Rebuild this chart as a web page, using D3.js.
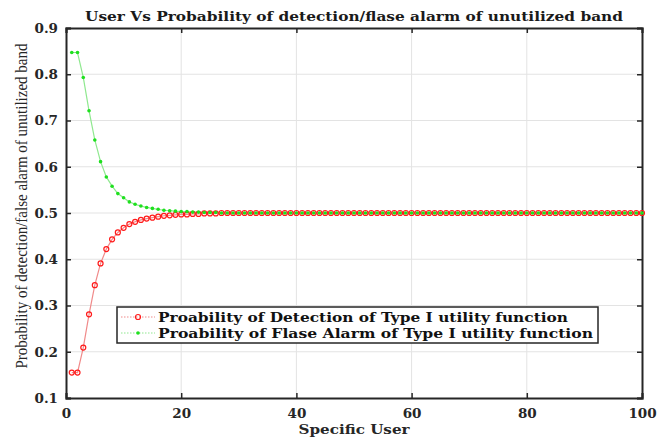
<!DOCTYPE html>
<html>
<head>
  <meta charset="utf-8">
  <title>User Vs Probability</title>
  <script src="https://cdn.jsdelivr.net/npm/d3@7"></script>
  <style>
    body { margin: 0; background: #fff; }
    text { font-family: "DejaVu Serif", serif; }
  </style>
</head>
<body>
  <script>
    // users 1..100
    const users = [
      1, 2, 3, 4, 5, 6, 7, 8, 9, 10, 11, 12, 13, 14, 15, 16, 17, 18, 19, 20,
      21, 22, 23, 24, 25, 26, 27, 28, 29, 30, 31, 32, 33, 34, 35, 36, 37, 38, 39, 40,
      41, 42, 43, 44, 45, 46, 47, 48, 49, 50, 51, 52, 53, 54, 55, 56, 57, 58, 59, 60,
      61, 62, 63, 64, 65, 66, 67, 68, 69, 70, 71, 72, 73, 74, 75, 76, 77, 78, 79, 80,
      81, 82, 83, 84, 85, 86, 87, 88, 89, 90, 91, 92, 93, 94, 95, 96, 97, 98, 99, 100]
    const detection = [
      0.155, 0.155, 0.209, 0.281, 0.344, 0.391, 0.422, 0.443, 0.458, 0.468,
      0.476, 0.481, 0.485, 0.488, 0.490, 0.492, 0.494, 0.495, 0.496, 0.497,
      0.497, 0.498, 0.498, 0.499, 0.499, 0.499, 0.5, 0.5, 0.5, 0.5,
      0.5, 0.5, 0.5, 0.5, 0.5, 0.5, 0.5, 0.5, 0.5, 0.5,
      0.5, 0.5, 0.5, 0.5, 0.5, 0.5, 0.5, 0.5, 0.5, 0.5,
      0.5, 0.5, 0.5, 0.5, 0.5, 0.5, 0.5, 0.5, 0.5, 0.5,
      0.5, 0.5, 0.5, 0.5, 0.5, 0.5, 0.5, 0.5, 0.5, 0.5,
      0.5, 0.5, 0.5, 0.5, 0.5, 0.5, 0.5, 0.5, 0.5, 0.5,
      0.5, 0.5, 0.5, 0.5, 0.5, 0.5, 0.5, 0.5, 0.5, 0.5,
      0.5, 0.5, 0.5, 0.5, 0.5, 0.5, 0.5, 0.5, 0.5, 0.5]
    const falseAlarm = [
      0.847, 0.847, 0.793, 0.721, 0.658, 0.611, 0.578, 0.558, 0.542, 0.533,
      0.524, 0.519, 0.515, 0.512, 0.510, 0.508, 0.506, 0.505, 0.504, 0.503,
      0.503, 0.502, 0.502, 0.501, 0.501, 0.501, 0.5, 0.5, 0.5, 0.5,
      0.5, 0.5, 0.5, 0.5, 0.5, 0.5, 0.5, 0.5, 0.5, 0.5,
      0.5, 0.5, 0.5, 0.5, 0.5, 0.5, 0.5, 0.5, 0.5, 0.5,
      0.5, 0.5, 0.5, 0.5, 0.5, 0.5, 0.5, 0.5, 0.5, 0.5,
      0.5, 0.5, 0.5, 0.5, 0.5, 0.5, 0.5, 0.5, 0.5, 0.5,
      0.5, 0.5, 0.5, 0.5, 0.5, 0.5, 0.5, 0.5, 0.5, 0.5,
      0.5, 0.5, 0.5, 0.5, 0.5, 0.5, 0.5, 0.5, 0.5, 0.5,
      0.5, 0.5, 0.5, 0.5, 0.5, 0.5, 0.5, 0.5, 0.5, 0.5]
    const xTicks = [0, 20, 40, 60, 80, 100]
    const yTicks = [0.1, 0.2, 0.3, 0.4, 0.5, 0.6, 0.7, 0.8, 0.9]
    const legendLabels = [
      "Proability of Detection of Type I utility function",
      "Proability of Flase Alarm of Type I utility function"]

    const width = 660, height = 438
    const margin = { left: 66, right: 18, top: 28, bottom: 40 }
    const iw = width - margin.left - margin.right
    const ih = height - margin.top - margin.bottom

    const svg = d3.select('body').append('svg')
      .attr('width', width).attr('height', height)

    const x = d3.scaleLinear().domain([0, 100]).range([0, iw])
    const y = d3.scaleLinear().domain([0.1, 0.9]).range([ih, 0])

    const g = svg.append('g')
      .attr('transform', `translate(${margin.left},${margin.top})`)

    // grid
    g.append('g').selectAll('line').data(xTicks.slice(1, -1)).join('line')
      .attr('x1', d => x(d)).attr('x2', d => x(d))
      .attr('y1', 0).attr('y2', ih)
      .attr('stroke', '#e3e3e3').attr('stroke-width', 1)
    g.append('g').selectAll('line').data(yTicks.slice(1, -1)).join('line')
      .attr('y1', d => y(d)).attr('y2', d => y(d))
      .attr('x1', 0).attr('x2', iw)
      .attr('stroke', '#e3e3e3').attr('stroke-width', 1)

    const axisColor = '#262626'
    const fmtY = d3.format('.1f')

    const xAxis = g.append('g').attr('transform', `translate(0,${ih})`)
      .call(d3.axisBottom(x).tickValues(xTicks).tickSize(-5).tickPadding(10))
    const yAxis = g.append('g')
      .call(d3.axisLeft(y).tickValues(yTicks).tickFormat(fmtY).tickSize(-5).tickPadding(8))
    const xTop = g.append('g')
      .call(d3.axisTop(x).tickValues(xTicks).tickSize(-5).tickFormat(''))
    const yRight = g.append('g').attr('transform', `translate(${iw},0)`)
      .call(d3.axisRight(y).tickValues(yTicks).tickSize(-5).tickFormat(''))

    for (const a of [xAxis, yAxis, xTop, yRight]) {
      a.select('.domain').attr('stroke', axisColor).attr('stroke-width', 2)
      a.selectAll('.tick line').attr('stroke', axisColor).attr('stroke-width', 1.5)
      a.selectAll('.tick text')
        .attr('fill', axisColor)
        .style('font-family', '"DejaVu Serif", serif')
        .style('font-weight', 'bold')
        .style('font-size', '13.5px')
    }

    const line = d3.line().x(d => x(d[0])).y(d => y(d[1]))
    const detPts = users.map((u, i) => [u, detection[i]])
    const faPts = users.map((u, i) => [u, falseAlarm[i]])

    g.append('path').datum(faPts)
      .attr('d', line).attr('fill', 'none')
      .attr('stroke', '#8fe88f').attr('stroke-width', 1.2)
    g.append('path').datum(detPts)
      .attr('d', line).attr('fill', 'none')
      .attr('stroke', '#f08a8a').attr('stroke-width', 1.2)

    g.append('g').selectAll('circle').data(detPts).join('circle')
      .attr('cx', d => x(d[0])).attr('cy', d => y(d[1]))
      .attr('r', 2.5).attr('fill', 'none')
      .attr('stroke', '#ff1a1a').attr('stroke-width', 1.2)
    g.append('g').selectAll('circle').data(faPts).join('circle')
      .attr('cx', d => x(d[0])).attr('cy', d => y(d[1]))
      .attr('r', 1.8).attr('fill', '#1ee01e')

    // title
    svg.append('text')
      .attr('x', 354).attr('y', 21)
      .attr('text-anchor', 'middle')
      .attr('font-weight', 'bold').attr('font-size', 13.5)
      .attr('fill', '#1a1a1a')
      .attr('textLength', 538).attr('lengthAdjust', 'spacingAndGlyphs')
      .text('User Vs Probability of detection/flase alarm of unutilized band')

    // axis labels
    svg.append('text')
      .attr('x', 354).attr('y', 434)
      .attr('text-anchor', 'middle')
      .attr('font-weight', 'bold').attr('font-size', 13.5)
      .attr('fill', '#262626')
      .attr('textLength', 111).attr('lengthAdjust', 'spacingAndGlyphs')
      .text('Specific User')
    svg.append('text')
      .attr('transform', 'translate(27,206) rotate(-90)')
      .attr('text-anchor', 'middle')
      .style('font-family', '"Liberation Serif", "Times New Roman", serif')
      .attr('font-size', 17)
      .attr('fill', '#262626')
      .attr('textLength', 325).attr('lengthAdjust', 'spacingAndGlyphs')
      .text('Probability of detection/false alarm of unutilized band')

    // legend
    const lg = svg.append('g').attr('transform', 'translate(117,307)')
    lg.append('rect')
      .attr('width', 481).attr('height', 36)
      .attr('fill', '#fff').attr('stroke', '#262626').attr('stroke-width', 1.5)
    const legendItems = [
      { label: legendLabels[0], color: '#ff1a1a', lineColor: '#f08a8a', open: true },
      { label: legendLabels[1], color: '#1ee01e', lineColor: '#8fe88f', open: false }]
    legendItems.forEach((it, i) => {
      const cy = 10 + i * 16
      lg.append('line')
        .attr('x1', 4).attr('x2', 38).attr('y1', cy).attr('y2', cy)
        .attr('stroke', it.lineColor).attr('stroke-width', 1.2)
        .attr('stroke-dasharray', '1.5,1.5')
      lg.append('circle')
        .attr('cx', 21).attr('cy', cy)
        .attr('r', it.open ? 2.5 : 1.8)
        .attr('fill', it.open ? 'none' : it.color)
        .attr('stroke', it.open ? it.color : 'none').attr('stroke-width', 1.2)
      lg.append('text')
        .attr('x', 41).attr('y', cy + 4.5)
        .attr('font-weight', 'bold').attr('font-size', 13.5)
        .attr('fill', '#111')
        .attr('textLength', i === 0 ? 410 : 435).attr('lengthAdjust', 'spacingAndGlyphs')
        .text(it.label)
    })
  </script>
</body>
</html>
